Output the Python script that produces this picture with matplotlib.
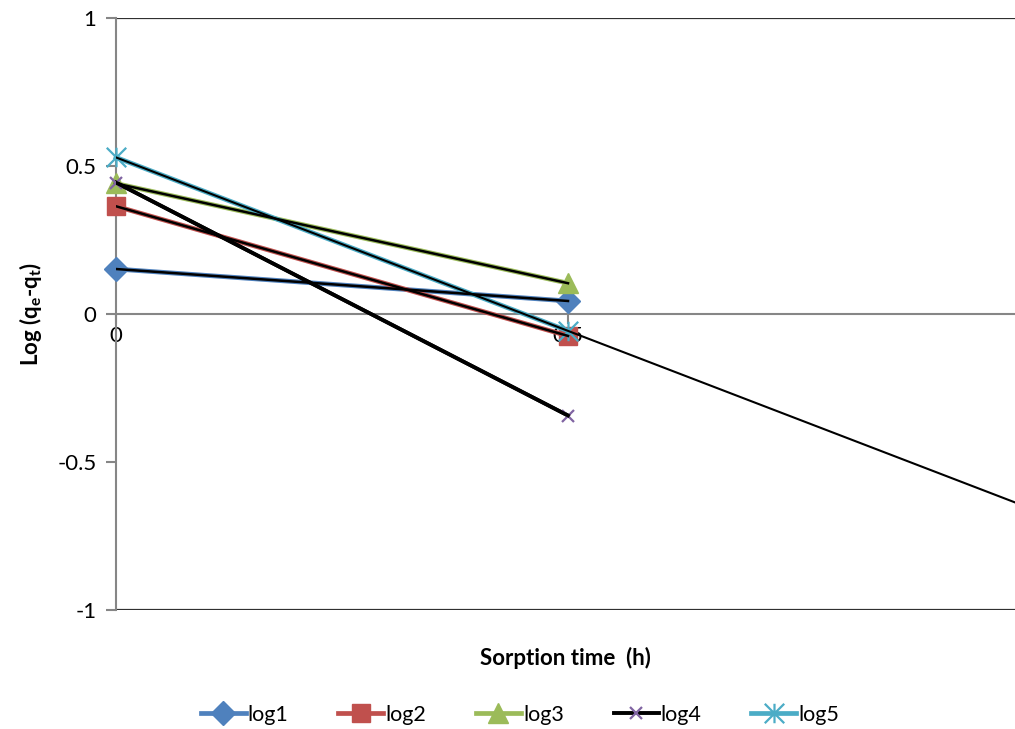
import numpy as np
import matplotlib.pyplot as plt
from matplotlib.path import Path

plt.rcParams['font.family'] = ['Lato', 'DejaVu Sans']
plt.rcParams['mathtext.fontset'] = 'custom'
plt.rcParams['mathtext.bf'] = 'Lato:bold'
plt.rcParams['mathtext.rm'] = 'Lato'

# sorption time (h)
times = [0, 0.5]

log1 = [0.152, 0.044]
log2 = [0.364, -0.074]
log3 = [0.441, 0.104]
log4 = [0.444, -0.343]
log5 = [0.529, -0.057]

names = ['log1', 'log2', 'log3', 'log4', 'log5']
series = [log1, log2, log3, log4, log5]

# excel-like "star": an x with a vertical bar through it
star = Path([(-1, -1), (1, 1), (-1, 1), (1, -1), (0, -1), (0, 1)],
            [Path.MOVETO, Path.LINETO, Path.MOVETO, Path.LINETO, Path.MOVETO, Path.LINETO])

styles = [
    dict(color='#4F81BD', marker='D', ms=12, mfc='#4F81BD', mec='#4F81BD', lw=3.4),
    dict(color='#C0504D', marker='s', ms=13, mfc='#C0504D', mec='#C0504D', lw=3.4),
    dict(color='#9BBB59', marker='^', ms=14, mfc='#9BBB59', mec='#9BBB59', lw=3.4),
    dict(color='black', marker='x', ms=9, mfc='#8064A2', mec='#8064A2', mew=1.6, lw=2.8),
    dict(color='#4BACC6', marker=star, ms=14, mfc='#4BACC6', mec='#4BACC6', mew=1.6, lw=3.4),
]

fig = plt.figure(figsize=(10.15, 7.29), dpi=100)
ax = fig.add_axes([116 / 1015, 1 - 610 / 729, 1 - 116 / 1015, (610 - 18) / 729])

for name, vals, st in zip(names, series, styles):
    ax.plot(times, vals, label=name, zorder=3, clip_on=False, **st)

# linear trendlines (black), log5's one forecast forward to 1 h
for i, vals in enumerate(series):
    k, b = np.polyfit(times, vals, 1)
    if i == 4:
        xs = np.array([0, 1.0])
        ax.plot(xs, k * xs + b, color='black', lw=1.5, zorder=4)
    else:
        xs = np.array(times)
        ax.plot(xs, k * xs + b, color='black', lw=1.8 if i != 3 else 2.6, zorder=4)

ax.set_xlim(0, (1015 - 116) / 904)
ax.set_ylim(-1, 1)
ax.axhline(1, color='#303030', lw=1.6, zorder=1)
ax.axhline(-1, color='#303030', lw=1.6, zorder=1)

ax.spines['top'].set_visible(False)
ax.spines['right'].set_visible(False)
ax.spines['bottom'].set_position(('data', 0))
for s in ('left', 'bottom'):
    ax.spines[s].set_color('#868686')
    ax.spines[s].set_linewidth(1.5)

ax.set_xticks([0, 0.5])
ax.set_xticklabels(['0', '0.5'])
ax.set_yticks([-1, -0.5, 0, 0.5, 1])
ax.set_yticklabels(['-1', '-0.5', '0', '0.5', '1'])
ax.tick_params(axis='both', colors='#868686', labelcolor='black', labelsize=16, width=1.5, length=7)
ax.tick_params(axis='x', pad=2)
ax.tick_params(axis='y', pad=7)

fig.text(565 / 1015, 1 - 658 / 729, 'Sorption time  (h)', ha='center', va='center',
         fontsize=16, fontweight='bold')
fig.text(30 / 1015, 1 - 314 / 729, r'Log (q$_\mathbf{e}$-q$_\mathbf{t}$)', ha='center', va='center',
         rotation=90, fontsize=16, fontweight='bold')

fig.legend(loc='center', bbox_to_anchor=(520 / 1015, 1 - 715 / 729), ncol=5, frameon=False,
           fontsize=15.5, handlelength=2.1, columnspacing=2.3, handletextpad=0.1)

fig.savefig('out.png', dpi=100)
